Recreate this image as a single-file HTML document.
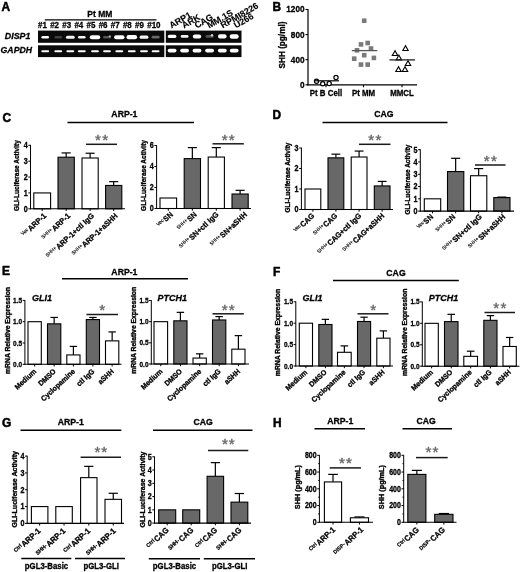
<!DOCTYPE html>
<html><head><meta charset="utf-8"><title>Figure</title>
<style>html,body{margin:0;padding:0;background:#fff}svg{display:block;filter:blur(0.4px)}</style></head>
<body>
<svg width="520" height="572" viewBox="0 0 520 572" font-family="Liberation Sans, Arial, sans-serif">
<defs><filter id="bl" x="-20%" y="-50%" width="140%" height="200%"><feGaussianBlur stdDeviation="0.75"/></filter><filter id="bl2" x="-20%" y="-50%" width="140%" height="200%"><feGaussianBlur stdDeviation="0.5"/></filter></defs>
<rect width="520" height="572" fill="#fff"/>
<text transform="translate(1.5 10.7)" font-size="11.9" font-weight="bold" text-anchor="start" fill="#000" stroke="#000" stroke-width="0.5">A</text>
<text transform="translate(272.5 11)" font-size="11.9" font-weight="bold" text-anchor="start" fill="#000" stroke="#000" stroke-width="0.5">B</text>
<text transform="translate(2.5 121.5)" font-size="11.9" font-weight="bold" text-anchor="start" fill="#000" stroke="#000" stroke-width="0.5">C</text>
<text transform="translate(272.5 118.8)" font-size="11.9" font-weight="bold" text-anchor="start" fill="#000" stroke="#000" stroke-width="0.5">D</text>
<text transform="translate(2 274.6)" font-size="11.9" font-weight="bold" text-anchor="start" fill="#000" stroke="#000" stroke-width="0.5">E</text>
<text transform="translate(273 275.5)" font-size="11.9" font-weight="bold" text-anchor="start" fill="#000" stroke="#000" stroke-width="0.5">F</text>
<text transform="translate(2 427)" font-size="11.9" font-weight="bold" text-anchor="start" fill="#000" stroke="#000" stroke-width="0.5">G</text>
<text transform="translate(273 427)" font-size="11.9" font-weight="bold" text-anchor="start" fill="#000" stroke="#000" stroke-width="0.5">H</text>
<text transform="translate(99.8 17.3) scale(0.9 1)" font-size="9.44" font-weight="bold" text-anchor="middle" fill="#000" stroke="#000" stroke-width="0.3">Pt MM</text>
<line x1="44.8" y1="19.8" x2="156.5" y2="19.8" stroke="#000" stroke-width="1.3"/>
<text transform="translate(42.4 28.2) scale(0.9 1)" font-size="8.89" font-weight="bold" text-anchor="middle" fill="#000" stroke="#000" stroke-width="0.3">#1</text>
<text transform="translate(54.6 28.2) scale(0.9 1)" font-size="8.89" font-weight="bold" text-anchor="middle" fill="#000" stroke="#000" stroke-width="0.3">#2</text>
<text transform="translate(66.75 28.2) scale(0.9 1)" font-size="8.89" font-weight="bold" text-anchor="middle" fill="#000" stroke="#000" stroke-width="0.3">#3</text>
<text transform="translate(78.85 28.2) scale(0.9 1)" font-size="8.89" font-weight="bold" text-anchor="middle" fill="#000" stroke="#000" stroke-width="0.3">#4</text>
<text transform="translate(90.95 28.2) scale(0.9 1)" font-size="8.89" font-weight="bold" text-anchor="middle" fill="#000" stroke="#000" stroke-width="0.3">#5</text>
<text transform="translate(103.1 28.2) scale(0.9 1)" font-size="8.89" font-weight="bold" text-anchor="middle" fill="#000" stroke="#000" stroke-width="0.3">#6</text>
<text transform="translate(115.25 28.2) scale(0.9 1)" font-size="8.89" font-weight="bold" text-anchor="middle" fill="#000" stroke="#000" stroke-width="0.3">#7</text>
<text transform="translate(127.35 28.2) scale(0.9 1)" font-size="8.89" font-weight="bold" text-anchor="middle" fill="#000" stroke="#000" stroke-width="0.3">#8</text>
<text transform="translate(139.45 28.2) scale(0.9 1)" font-size="8.89" font-weight="bold" text-anchor="middle" fill="#000" stroke="#000" stroke-width="0.3">#9</text>
<text transform="translate(153.85 28.2) scale(0.9 1)" font-size="8.89" font-weight="bold" text-anchor="middle" fill="#000" stroke="#000" stroke-width="0.3">#10</text>
<text transform="translate(4.8 38.8) scale(0.9 1)" font-size="9.89" font-weight="bold" text-anchor="start" fill="#000" stroke="#000" stroke-width="0.3" font-style="italic">DISP1</text>
<text transform="translate(0.6 52.8) scale(0.9 1)" font-size="9.67" font-weight="bold" text-anchor="start" fill="#000" stroke="#000" stroke-width="0.3" font-style="italic">GAPDH</text>
<rect x="38" y="30.6" width="126.3" height="12.2" fill="#0a0a0a"/>
<rect x="38" y="45.3" width="126.3" height="11.8" fill="#0a0a0a"/>
<rect x="165.8" y="30.6" width="75.7" height="12.2" fill="#0a0a0a"/>
<rect x="165.8" y="45.3" width="75.7" height="11.8" fill="#0a0a0a"/>
<g filter="url(#bl)">
<rect x="41.4" y="35.9" width="7.6" height="2.6" rx="1.3" fill="#fff" opacity="1.0"/>
<rect x="54.55" y="36.0" width="7.5" height="2.4" rx="1.2" fill="#fff" opacity="0.22"/>
<rect x="65.9" y="35.65" width="8.8" height="3.1" rx="1.55" fill="#fff" opacity="0.95"/>
<rect x="78.0" y="35.9" width="7.6" height="2.6" rx="1.3" fill="#fff" opacity="0.95"/>
<rect x="89.8" y="35.2" width="10.4" height="4.0" rx="2.0" fill="#fff" opacity="1.0"/>
<rect x="103.0" y="36.0" width="8" height="2.4" rx="1.2" fill="#fff" opacity="0.3"/>
<rect x="114.1" y="35.2" width="10.4" height="4.0" rx="2.0" fill="#fff" opacity="1.0"/>
<rect x="126.5" y="35.1" width="10.6" height="4.2" rx="2.1" fill="#fff" opacity="1.0"/>
<rect x="139.6" y="35.6" width="8.8" height="3.2" rx="1.6" fill="#fff" opacity="0.95"/>
<rect x="151.6" y="35.8" width="8" height="2.8" rx="1.4" fill="#fff" opacity="0.38"/>
<circle cx="109.8" cy="36.3" r="1.1" fill="#fff" opacity="0.6"/>
</g>
<rect x="41.3" y="50.2" width="7.8" height="2.1" rx="1" fill="#fff" filter="url(#bl2)"/>
<rect x="54.4" y="50.2" width="7.8" height="2.1" rx="1" fill="#fff" filter="url(#bl2)"/>
<rect x="66.4" y="50.2" width="7.8" height="2.1" rx="1" fill="#fff" filter="url(#bl2)"/>
<rect x="77.9" y="50.2" width="7.8" height="2.1" rx="1" fill="#fff" filter="url(#bl2)"/>
<rect x="91.1" y="50.2" width="7.8" height="2.1" rx="1" fill="#fff" filter="url(#bl2)"/>
<rect x="103.1" y="50.2" width="7.8" height="2.1" rx="1" fill="#fff" filter="url(#bl2)"/>
<rect x="115.4" y="50.2" width="7.8" height="2.1" rx="1" fill="#fff" filter="url(#bl2)"/>
<rect x="127.9" y="50.2" width="7.8" height="2.1" rx="1" fill="#fff" filter="url(#bl2)"/>
<rect x="140.1" y="50.2" width="7.8" height="2.1" rx="1" fill="#fff" filter="url(#bl2)"/>
<rect x="151.7" y="50.2" width="7.8" height="2.1" rx="1" fill="#fff" filter="url(#bl2)"/>
<g filter="url(#bl)">
<rect x="167.8" y="34.75" width="8.6" height="3.3" rx="1.65" fill="#fff" opacity="1.0"/>
<rect x="180.7" y="34.95" width="7.8" height="2.9" rx="1.45" fill="#fff" opacity="0.95"/>
<rect x="192.8" y="34.4" width="8.4" height="4.0" rx="2.0" fill="#fff" opacity="1.0"/>
<rect x="205.6" y="35.1" width="8" height="2.6" rx="1.3" fill="#fff" opacity="0.3"/>
<rect x="218.0" y="34.3" width="8.6" height="4.2" rx="2.1" fill="#fff" opacity="1.0"/>
<rect x="229.7" y="34.15" width="9" height="4.5" rx="2.25" fill="#fff" opacity="1.0"/>
<circle cx="212" cy="35.2" r="1.2" fill="#fff" opacity="0.75"/>
<rect x="167.7" y="48.7" width="8.8" height="3.8" rx="1.9" fill="#fff"/>
<rect x="180.2" y="48.7" width="8.8" height="3.8" rx="1.9" fill="#fff"/>
<rect x="192.6" y="48.7" width="8.8" height="3.8" rx="1.9" fill="#fff"/>
<rect x="205.2" y="48.7" width="8.8" height="3.8" rx="1.9" fill="#fff"/>
<rect x="217.9" y="48.7" width="8.8" height="3.8" rx="1.9" fill="#fff"/>
<rect x="229.8" y="48.7" width="8.8" height="3.8" rx="1.9" fill="#fff"/>
</g>
<text transform="translate(171.4 28.6) rotate(-30)" font-size="8.9" font-weight="bold" text-anchor="start" fill="#000" stroke="#000" stroke-width="0.15">ARP1</text>
<text transform="translate(184.10000000000002 28.6) rotate(-30)" font-size="8.9" font-weight="bold" text-anchor="start" fill="#000" stroke="#000" stroke-width="0.15">ARK</text>
<text transform="translate(196.70000000000002 28.6) rotate(-30)" font-size="8.9" font-weight="bold" text-anchor="start" fill="#000" stroke="#000" stroke-width="0.15">CAG</text>
<text transform="translate(209.20000000000002 28.6) rotate(-30)" font-size="8.9" font-weight="bold" text-anchor="start" fill="#000" stroke="#000" stroke-width="0.15">MM.1S</text>
<text transform="translate(222.8 28.6) rotate(-30)" font-size="8.9" font-weight="bold" text-anchor="start" fill="#000" stroke="#000" stroke-width="0.15">RPMI8226</text>
<text transform="translate(236.0 28.6) rotate(-30)" font-size="8.9" font-weight="bold" text-anchor="start" fill="#000" stroke="#000" stroke-width="0.15">U266</text>
<line x1="308" y1="9" x2="308" y2="85.4" stroke="#000" stroke-width="1.2"/>
<line x1="307.4" y1="84.8" x2="417" y2="84.8" stroke="#000" stroke-width="1.2"/>
<line x1="305.5" y1="84.8" x2="308" y2="84.8" stroke="#000" stroke-width="1.1"/>
<text transform="translate(304.5 87.7) scale(0.9 1)" font-size="9.11" font-weight="bold" text-anchor="end" fill="#000" stroke="#000" stroke-width="0.3">0</text>
<line x1="305.5" y1="59.699999999999996" x2="308" y2="59.699999999999996" stroke="#000" stroke-width="1.1"/>
<text transform="translate(304.5 62.6) scale(0.9 1)" font-size="9.11" font-weight="bold" text-anchor="end" fill="#000" stroke="#000" stroke-width="0.3">400</text>
<line x1="305.5" y1="34.599999999999994" x2="308" y2="34.599999999999994" stroke="#000" stroke-width="1.1"/>
<text transform="translate(304.5 37.5) scale(0.9 1)" font-size="9.11" font-weight="bold" text-anchor="end" fill="#000" stroke="#000" stroke-width="0.3">800</text>
<line x1="305.5" y1="9.5" x2="308" y2="9.5" stroke="#000" stroke-width="1.1"/>
<text transform="translate(304.5 12.4) scale(0.9 1)" font-size="9.11" font-weight="bold" text-anchor="end" fill="#000" stroke="#000" stroke-width="0.3">1200</text>
<text transform="translate(285 45) rotate(-90) scale(0.95 1)" font-size="8.63" font-weight="bold" text-anchor="middle" fill="#000" stroke="#000" stroke-width="0.3">SHH (pg/ml)</text>
<text transform="translate(326 96) scale(0.9 1)" font-size="8.78" font-weight="bold" text-anchor="middle" fill="#000" stroke="#000" stroke-width="0.3">Pt B Cell</text>
<text transform="translate(363.5 96) scale(0.9 1)" font-size="8.78" font-weight="bold" text-anchor="middle" fill="#000" stroke="#000" stroke-width="0.3">Pt MM</text>
<text transform="translate(402 96) scale(0.9 1)" font-size="8.78" font-weight="bold" text-anchor="middle" fill="#000" stroke="#000" stroke-width="0.3">MMCL</text>
<line x1="326" y1="84.8" x2="326" y2="87.3" stroke="#000" stroke-width="1.1"/>
<line x1="363.5" y1="84.8" x2="363.5" y2="87.3" stroke="#000" stroke-width="1.1"/>
<line x1="402" y1="84.8" x2="402" y2="87.3" stroke="#000" stroke-width="1.1"/>
<circle cx="316.5" cy="81.3" r="2.1" fill="#fff" stroke="#000" stroke-width="1.2"/>
<circle cx="322.7" cy="83.7" r="2.1" fill="#fff" stroke="#000" stroke-width="1.2"/>
<circle cx="329.2" cy="83.5" r="2.1" fill="#fff" stroke="#000" stroke-width="1.2"/>
<circle cx="336" cy="77.5" r="2.1" fill="#fff" stroke="#000" stroke-width="1.2"/>
<line x1="315" y1="80.8" x2="339" y2="80.8" stroke="#000" stroke-width="1.2"/>
<rect x="361.9" y="18.4" width="4.6" height="4.6" fill="#7a7a7a"/>
<rect x="358.7" y="42.1" width="4.6" height="4.6" fill="#7a7a7a"/>
<rect x="365.4" y="40.7" width="4.6" height="4.6" fill="#7a7a7a"/>
<rect x="354.7" y="48.0" width="4.6" height="4.6" fill="#7a7a7a"/>
<rect x="368.7" y="46.2" width="4.6" height="4.6" fill="#7a7a7a"/>
<rect x="361.9" y="52.9" width="4.6" height="4.6" fill="#7a7a7a"/>
<rect x="351.9" y="56.4" width="4.6" height="4.6" fill="#7a7a7a"/>
<rect x="371.6" y="55.6" width="4.6" height="4.6" fill="#7a7a7a"/>
<rect x="358.7" y="62.3" width="4.6" height="4.6" fill="#7a7a7a"/>
<rect x="365.4" y="62.3" width="4.6" height="4.6" fill="#7a7a7a"/>
<line x1="351.8" y1="50.6" x2="377.3" y2="50.6" stroke="#555" stroke-width="1.3"/>
<polygon points="395,50.7 392.3,55.5 397.7,55.5" fill="#fff" stroke="#000" stroke-width="1.1"/>
<polygon points="405.5,45.7 402.8,50.5 408.2,50.5" fill="#fff" stroke="#000" stroke-width="1.1"/>
<polygon points="398.9,55.1 396.2,59.9 401.59999999999997,59.9" fill="#fff" stroke="#000" stroke-width="1.1"/>
<polygon points="408,60.7 405.3,65.5 410.7,65.5" fill="#fff" stroke="#000" stroke-width="1.1"/>
<polygon points="398.5,66.7 395.8,71.5 401.2,71.5" fill="#fff" stroke="#000" stroke-width="1.1"/>
<polygon points="405,66.7 402.3,71.5 407.7,71.5" fill="#fff" stroke="#000" stroke-width="1.1"/>
<line x1="389.5" y1="59.9" x2="415" y2="59.9" stroke="#222" stroke-width="1.3"/>
<text transform="translate(124.4 117.3) scale(0.9 1)" font-size="9.67" font-weight="bold" text-anchor="middle" fill="#000" stroke="#000" stroke-width="0.3">ARP-1</text>
<line x1="67.5" y1="122.5" x2="194" y2="122.5" stroke="#000" stroke-width="1.5"/>
<text transform="translate(383.9 116.8) scale(0.9 1)" font-size="9.67" font-weight="bold" text-anchor="middle" fill="#000" stroke="#000" stroke-width="0.3">CAG</text>
<line x1="322.5" y1="122.5" x2="447.5" y2="122.5" stroke="#000" stroke-width="1.5"/>
<text transform="translate(124.4 275.3) scale(0.9 1)" font-size="9.67" font-weight="bold" text-anchor="middle" fill="#000" stroke="#000" stroke-width="0.3">ARP-1</text>
<line x1="62" y1="278.8" x2="188" y2="278.8" stroke="#000" stroke-width="1.5"/>
<text transform="translate(396.0 275.6) scale(0.9 1)" font-size="9.67" font-weight="bold" text-anchor="middle" fill="#000" stroke="#000" stroke-width="0.3">CAG</text>
<line x1="333" y1="280.5" x2="458.8" y2="280.5" stroke="#000" stroke-width="1.5"/>
<text transform="translate(70.7 425.1) scale(0.9 1)" font-size="9.67" font-weight="bold" text-anchor="middle" fill="#000" stroke="#000" stroke-width="0.3">ARP-1</text>
<line x1="20.5" y1="430.2" x2="121.3" y2="430.2" stroke="#000" stroke-width="1.5"/>
<text transform="translate(203.20000000000002 425.2) scale(0.9 1)" font-size="9.67" font-weight="bold" text-anchor="middle" fill="#000" stroke="#000" stroke-width="0.3">CAG</text>
<line x1="153" y1="430.2" x2="252.5" y2="430.2" stroke="#000" stroke-width="1.5"/>
<text transform="translate(340.2 424.3) scale(0.9 1)" font-size="9.67" font-weight="bold" text-anchor="middle" fill="#000" stroke="#000" stroke-width="0.3">ARP-1</text>
<line x1="314.5" y1="428.8" x2="365" y2="428.8" stroke="#000" stroke-width="1.5"/>
<text transform="translate(426.2 424.3) scale(0.9 1)" font-size="9.67" font-weight="bold" text-anchor="middle" fill="#000" stroke="#000" stroke-width="0.3">CAG</text>
<line x1="402.5" y1="428.8" x2="452" y2="428.8" stroke="#000" stroke-width="1.5"/>
<rect x="33.8" y="192.93" width="16.8" height="15.88" fill="#fff" stroke="#000" stroke-width="1.1"/>
<line x1="42.2" y1="208.8" x2="42.2" y2="211.0" stroke="#000" stroke-width="1.0"/>
<line x1="66.15" y1="157.21" x2="66.15" y2="152.92" stroke="#000" stroke-width="1.2"/>
<line x1="61.59" y1="152.92" x2="70.71" y2="152.92" stroke="#000" stroke-width="1.2"/>
<rect x="58" y="157.21" width="16.3" height="51.59" fill="#686868" stroke="#000" stroke-width="1.1"/>
<line x1="66.15" y1="208.8" x2="66.15" y2="211.0" stroke="#000" stroke-width="1.0"/>
<line x1="90.1" y1="158.0" x2="90.1" y2="153.24" stroke="#000" stroke-width="1.2"/>
<line x1="85.56" y1="153.24" x2="94.64" y2="153.24" stroke="#000" stroke-width="1.2"/>
<rect x="82" y="158.00" width="16.2" height="50.80" fill="#fff" stroke="#000" stroke-width="1.1"/>
<line x1="90.1" y1="208.8" x2="90.1" y2="211.0" stroke="#000" stroke-width="1.0"/>
<line x1="113.69999999999999" y1="185.46" x2="113.69999999999999" y2="181.65" stroke="#000" stroke-width="1.2"/>
<line x1="109.16" y1="181.65" x2="118.24" y2="181.65" stroke="#000" stroke-width="1.2"/>
<rect x="105.6" y="185.46" width="16.2" height="23.34" fill="#686868" stroke="#000" stroke-width="1.1"/>
<line x1="113.69999999999999" y1="208.8" x2="113.69999999999999" y2="211.0" stroke="#000" stroke-width="1.0"/>
<line x1="30.5" y1="144.9" x2="30.5" y2="209.3" stroke="#000" stroke-width="1.0"/>
<line x1="30.0" y1="208.8" x2="125" y2="208.8" stroke="#000" stroke-width="1.1"/>
<line x1="28.3" y1="208.8" x2="30.5" y2="208.8" stroke="#000" stroke-width="1.0"/>
<text transform="translate(27.7 211.61) scale(0.86 1)" font-size="8.37" font-weight="bold" text-anchor="end" fill="#000" stroke="#000" stroke-width="0.3">0</text>
<line x1="28.3" y1="192.93" x2="30.5" y2="192.93" stroke="#000" stroke-width="1.0"/>
<text transform="translate(27.7 195.74) scale(0.86 1)" font-size="8.37" font-weight="bold" text-anchor="end" fill="#000" stroke="#000" stroke-width="0.3">1</text>
<line x1="28.3" y1="177.05" x2="30.5" y2="177.05" stroke="#000" stroke-width="1.0"/>
<text transform="translate(27.7 179.86) scale(0.86 1)" font-size="8.37" font-weight="bold" text-anchor="end" fill="#000" stroke="#000" stroke-width="0.3">2</text>
<line x1="28.3" y1="161.18" x2="30.5" y2="161.18" stroke="#000" stroke-width="1.0"/>
<text transform="translate(27.7 163.99) scale(0.86 1)" font-size="8.37" font-weight="bold" text-anchor="end" fill="#000" stroke="#000" stroke-width="0.3">3</text>
<line x1="28.3" y1="145.3" x2="30.5" y2="145.3" stroke="#000" stroke-width="1.0"/>
<text transform="translate(27.7 148.11) scale(0.86 1)" font-size="8.37" font-weight="bold" text-anchor="end" fill="#000" stroke="#000" stroke-width="0.3">4</text>
<text transform="translate(18.7 175.6) rotate(-90) scale(0.95 1)" font-size="6.89" font-weight="bold" text-anchor="middle" fill="#000" stroke="#000" stroke-width="0.35">GLI-Luciferase Activity</text>
<text x="102.19999999999999" y="145.14" font-size="15.2" font-weight="normal" text-anchor="middle" fill="#666" stroke="#666" stroke-width="0.4" letter-spacing="1.2">**</text>
<line x1="86" y1="144.3" x2="117" y2="144.3" stroke="#1a1a1a" stroke-width="1.5"/>
<text transform="translate(46.7 216.5) rotate(-43) scale(0.95 1)" font-size="7.68" font-weight="bold" text-anchor="end" fill="#000" stroke="#000" stroke-width="0.3"><tspan font-size="4.95" font-weight="normal" stroke-width="0.15" dy="-2.3">Vec</tspan><tspan dy="2.3" dx="0.8">ARP-1</tspan></text>
<text transform="translate(70.65 216.5) rotate(-43) scale(0.95 1)" font-size="7.68" font-weight="bold" text-anchor="end" fill="#000" stroke="#000" stroke-width="0.3"><tspan font-size="4.95" font-weight="normal" stroke-width="0.15" dy="-2.3">SHH+</tspan><tspan dy="2.3" dx="0.8">ARP-1</tspan></text>
<text transform="translate(94.6 216.5) rotate(-43) scale(0.95 1)" font-size="7.68" font-weight="bold" text-anchor="end" fill="#000" stroke="#000" stroke-width="0.3"><tspan font-size="4.95" font-weight="normal" stroke-width="0.15" dy="-2.3">SHH+</tspan><tspan dy="2.3" dx="0.8">ARP-1+ctl IgG</tspan></text>
<text transform="translate(118.19999999999999 216.5) rotate(-43) scale(0.95 1)" font-size="7.68" font-weight="bold" text-anchor="end" fill="#000" stroke="#000" stroke-width="0.3"><tspan font-size="4.95" font-weight="normal" stroke-width="0.15" dy="-2.3">SHH+</tspan><tspan dy="2.3" dx="0.8">ARP-1+aSHH</tspan></text>
<rect x="160" y="198.00" width="16.6" height="10.50" fill="#fff" stroke="#000" stroke-width="1.1"/>
<line x1="168.3" y1="208.5" x2="168.3" y2="210.7" stroke="#000" stroke-width="1.0"/>
<line x1="192.35" y1="158.62" x2="192.35" y2="147.6" stroke="#000" stroke-width="1.2"/>
<line x1="187.79" y1="147.6" x2="196.91" y2="147.6" stroke="#000" stroke-width="1.2"/>
<rect x="184.2" y="158.62" width="16.3" height="49.88" fill="#686868" stroke="#000" stroke-width="1.1"/>
<line x1="192.35" y1="208.5" x2="192.35" y2="210.7" stroke="#000" stroke-width="1.0"/>
<line x1="216.3" y1="157.05" x2="216.3" y2="147.6" stroke="#000" stroke-width="1.2"/>
<line x1="211.76" y1="147.6" x2="220.84" y2="147.6" stroke="#000" stroke-width="1.2"/>
<rect x="208.2" y="157.05" width="16.2" height="51.45" fill="#fff" stroke="#000" stroke-width="1.1"/>
<line x1="216.3" y1="208.5" x2="216.3" y2="210.7" stroke="#000" stroke-width="1.0"/>
<line x1="240.1" y1="194.01" x2="240.1" y2="190.34" stroke="#000" stroke-width="1.2"/>
<line x1="235.56" y1="190.34" x2="244.64" y2="190.34" stroke="#000" stroke-width="1.2"/>
<rect x="232" y="194.01" width="16.2" height="14.49" fill="#686868" stroke="#000" stroke-width="1.1"/>
<line x1="240.1" y1="208.5" x2="240.1" y2="210.7" stroke="#000" stroke-width="1.0"/>
<line x1="156.6" y1="145.1" x2="156.6" y2="209.0" stroke="#000" stroke-width="1.0"/>
<line x1="156.1" y1="208.5" x2="251" y2="208.5" stroke="#000" stroke-width="1.1"/>
<line x1="154.4" y1="208.5" x2="156.6" y2="208.5" stroke="#000" stroke-width="1.0"/>
<text transform="translate(153.8 211.31) scale(0.86 1)" font-size="8.37" font-weight="bold" text-anchor="end" fill="#000" stroke="#000" stroke-width="0.3">0</text>
<line x1="154.4" y1="187.5" x2="156.6" y2="187.5" stroke="#000" stroke-width="1.0"/>
<text transform="translate(153.8 190.31) scale(0.86 1)" font-size="8.37" font-weight="bold" text-anchor="end" fill="#000" stroke="#000" stroke-width="0.3">2</text>
<line x1="154.4" y1="166.5" x2="156.6" y2="166.5" stroke="#000" stroke-width="1.0"/>
<text transform="translate(153.8 169.31) scale(0.86 1)" font-size="8.37" font-weight="bold" text-anchor="end" fill="#000" stroke="#000" stroke-width="0.3">4</text>
<line x1="154.4" y1="145.5" x2="156.6" y2="145.5" stroke="#000" stroke-width="1.0"/>
<text transform="translate(153.8 148.31) scale(0.86 1)" font-size="8.37" font-weight="bold" text-anchor="end" fill="#000" stroke="#000" stroke-width="0.3">6</text>
<text transform="translate(146.2 175.5) rotate(-90) scale(0.95 1)" font-size="6.89" font-weight="bold" text-anchor="middle" fill="#000" stroke="#000" stroke-width="0.35">GLI-Luciferase Activity</text>
<text x="228.85" y="144.64" font-size="15.2" font-weight="normal" text-anchor="middle" fill="#666" stroke="#666" stroke-width="0.4" letter-spacing="1.2">**</text>
<line x1="212.5" y1="143.8" x2="243.8" y2="143.8" stroke="#1a1a1a" stroke-width="1.5"/>
<text transform="translate(173.5 215.2) rotate(-43) scale(0.95 1)" font-size="7.68" font-weight="bold" text-anchor="end" fill="#000" stroke="#000" stroke-width="0.3"><tspan font-size="4.95" font-weight="normal" stroke-width="0.15" dy="-2.3">Vec</tspan><tspan dy="2.3" dx="0.8">SN</tspan></text>
<text transform="translate(197.35 215.2) rotate(-43) scale(0.95 1)" font-size="7.68" font-weight="bold" text-anchor="end" fill="#000" stroke="#000" stroke-width="0.3"><tspan font-size="4.95" font-weight="normal" stroke-width="0.15" dy="-2.3">SHH+</tspan><tspan dy="2.3" dx="0.8">SN</tspan></text>
<text transform="translate(219.10000000000002 215.2) rotate(-43) scale(0.95 1)" font-size="7.68" font-weight="bold" text-anchor="end" fill="#000" stroke="#000" stroke-width="0.3"><tspan font-size="4.95" font-weight="normal" stroke-width="0.15" dy="-2.3">SHH+</tspan><tspan dy="2.3" dx="0.8">SN+ctl IgG</tspan></text>
<text transform="translate(247.6 215.2) rotate(-43) scale(0.95 1)" font-size="7.68" font-weight="bold" text-anchor="end" fill="#000" stroke="#000" stroke-width="0.3"><tspan font-size="4.95" font-weight="normal" stroke-width="0.15" dy="-2.3">SHH+</tspan><tspan dy="2.3" dx="0.8">SN+aSHH</tspan></text>
<rect x="305" y="189.00" width="15.8" height="20.50" fill="#fff" stroke="#000" stroke-width="1.1"/>
<line x1="312.9" y1="209.5" x2="312.9" y2="211.7" stroke="#000" stroke-width="1.0"/>
<line x1="335.9" y1="157.84" x2="335.9" y2="154.15" stroke="#000" stroke-width="1.2"/>
<line x1="331.48" y1="154.15" x2="340.32" y2="154.15" stroke="#000" stroke-width="1.2"/>
<rect x="328" y="157.84" width="15.8" height="51.66" fill="#686868" stroke="#000" stroke-width="1.1"/>
<line x1="335.9" y1="209.5" x2="335.9" y2="211.7" stroke="#000" stroke-width="1.0"/>
<line x1="359.1" y1="157.02" x2="359.1" y2="151.07" stroke="#000" stroke-width="1.2"/>
<line x1="354.68" y1="151.07" x2="363.52" y2="151.07" stroke="#000" stroke-width="1.2"/>
<rect x="351.2" y="157.02" width="15.8" height="52.48" fill="#fff" stroke="#000" stroke-width="1.1"/>
<line x1="359.1" y1="209.5" x2="359.1" y2="211.7" stroke="#000" stroke-width="1.0"/>
<line x1="382.15" y1="185.93" x2="382.15" y2="181.41" stroke="#000" stroke-width="1.2"/>
<line x1="377.75" y1="181.41" x2="386.55" y2="181.41" stroke="#000" stroke-width="1.2"/>
<rect x="374.3" y="185.93" width="15.7" height="23.57" fill="#686868" stroke="#000" stroke-width="1.1"/>
<line x1="382.15" y1="209.5" x2="382.15" y2="211.7" stroke="#000" stroke-width="1.0"/>
<line x1="301.4" y1="147.6" x2="301.4" y2="210.0" stroke="#000" stroke-width="1.0"/>
<line x1="300.9" y1="209.5" x2="393" y2="209.5" stroke="#000" stroke-width="1.1"/>
<line x1="299.2" y1="209.5" x2="301.4" y2="209.5" stroke="#000" stroke-width="1.0"/>
<text transform="translate(298.59999999999997 212.31) scale(0.86 1)" font-size="8.37" font-weight="bold" text-anchor="end" fill="#000" stroke="#000" stroke-width="0.3">0</text>
<line x1="299.2" y1="189.0" x2="301.4" y2="189.0" stroke="#000" stroke-width="1.0"/>
<text transform="translate(298.59999999999997 191.81) scale(0.86 1)" font-size="8.37" font-weight="bold" text-anchor="end" fill="#000" stroke="#000" stroke-width="0.3">1</text>
<line x1="299.2" y1="168.5" x2="301.4" y2="168.5" stroke="#000" stroke-width="1.0"/>
<text transform="translate(298.59999999999997 171.31) scale(0.86 1)" font-size="8.37" font-weight="bold" text-anchor="end" fill="#000" stroke="#000" stroke-width="0.3">2</text>
<line x1="299.2" y1="148.0" x2="301.4" y2="148.0" stroke="#000" stroke-width="1.0"/>
<text transform="translate(298.59999999999997 150.81) scale(0.86 1)" font-size="8.37" font-weight="bold" text-anchor="end" fill="#000" stroke="#000" stroke-width="0.3">3</text>
<text transform="translate(290 177.5) rotate(-90) scale(0.95 1)" font-size="6.79" font-weight="bold" text-anchor="middle" fill="#000" stroke="#000" stroke-width="0.35">GLI-Luciferase Activity</text>
<text x="375.45000000000005" y="145.14" font-size="15.2" font-weight="normal" text-anchor="middle" fill="#666" stroke="#666" stroke-width="0.4" letter-spacing="1.2">**</text>
<line x1="359" y1="144.3" x2="390.5" y2="144.3" stroke="#1a1a1a" stroke-width="1.5"/>
<text transform="translate(314.9 216.5) rotate(-43) scale(0.95 1)" font-size="7.68" font-weight="bold" text-anchor="end" fill="#000" stroke="#000" stroke-width="0.3"><tspan font-size="4.95" font-weight="normal" stroke-width="0.15" dy="-2.3">Vec</tspan><tspan dy="2.3" dx="0.8">CAG</tspan></text>
<text transform="translate(337.9 216.5) rotate(-43) scale(0.95 1)" font-size="7.68" font-weight="bold" text-anchor="end" fill="#000" stroke="#000" stroke-width="0.3"><tspan font-size="4.95" font-weight="normal" stroke-width="0.15" dy="-2.3">SHH+</tspan><tspan dy="2.3" dx="0.8">CAG</tspan></text>
<text transform="translate(361.85 216.5) rotate(-43) scale(0.95 1)" font-size="7.68" font-weight="bold" text-anchor="end" fill="#000" stroke="#000" stroke-width="0.3"><tspan font-size="4.95" font-weight="normal" stroke-width="0.15" dy="-2.3">SHH+</tspan><tspan dy="2.3" dx="0.8">CAG+ctl IgG</tspan></text>
<text transform="translate(384.9 216.5) rotate(-43) scale(0.95 1)" font-size="7.68" font-weight="bold" text-anchor="end" fill="#000" stroke="#000" stroke-width="0.3"><tspan font-size="4.95" font-weight="normal" stroke-width="0.15" dy="-2.3">SHH+</tspan><tspan dy="2.3" dx="0.8">CAG+aSHH</tspan></text>
<rect x="424.3" y="198.82" width="16.4" height="12.28" fill="#fff" stroke="#000" stroke-width="1.1"/>
<line x1="432.5" y1="211.1" x2="432.5" y2="213.29999999999998" stroke="#000" stroke-width="1.0"/>
<line x1="455.65" y1="171.56" x2="455.65" y2="158.3" stroke="#000" stroke-width="1.2"/>
<line x1="451.09" y1="158.3" x2="460.21" y2="158.3" stroke="#000" stroke-width="1.2"/>
<rect x="447.5" y="171.56" width="16.3" height="39.54" fill="#686868" stroke="#000" stroke-width="1.1"/>
<line x1="455.65" y1="211.1" x2="455.65" y2="213.29999999999998" stroke="#000" stroke-width="1.0"/>
<line x1="478.65" y1="175.73" x2="478.65" y2="168.61" stroke="#000" stroke-width="1.2"/>
<line x1="474.09" y1="168.61" x2="483.21" y2="168.61" stroke="#000" stroke-width="1.2"/>
<rect x="470.5" y="175.73" width="16.3" height="35.37" fill="#fff" stroke="#000" stroke-width="1.1"/>
<line x1="478.65" y1="211.1" x2="478.65" y2="213.29999999999998" stroke="#000" stroke-width="1.0"/>
<line x1="501.9" y1="197.59" x2="501.9" y2="197.1" stroke="#000" stroke-width="1.2"/>
<line x1="497.36" y1="197.1" x2="506.44" y2="197.1" stroke="#000" stroke-width="1.2"/>
<rect x="493.8" y="197.59" width="16.2" height="13.51" fill="#686868" stroke="#000" stroke-width="1.1"/>
<line x1="501.9" y1="211.1" x2="501.9" y2="213.29999999999998" stroke="#000" stroke-width="1.0"/>
<line x1="420.3" y1="149.29999999999998" x2="420.3" y2="211.6" stroke="#000" stroke-width="1.0"/>
<line x1="419.8" y1="211.1" x2="514" y2="211.1" stroke="#000" stroke-width="1.1"/>
<line x1="418.1" y1="211.1" x2="420.3" y2="211.1" stroke="#000" stroke-width="1.0"/>
<text transform="translate(417.5 213.91) scale(0.86 1)" font-size="8.37" font-weight="bold" text-anchor="end" fill="#000" stroke="#000" stroke-width="0.3">0</text>
<line x1="418.1" y1="198.82" x2="420.3" y2="198.82" stroke="#000" stroke-width="1.0"/>
<text transform="translate(417.5 201.63) scale(0.86 1)" font-size="8.37" font-weight="bold" text-anchor="end" fill="#000" stroke="#000" stroke-width="0.3">1</text>
<line x1="418.1" y1="186.54" x2="420.3" y2="186.54" stroke="#000" stroke-width="1.0"/>
<text transform="translate(417.5 189.35) scale(0.86 1)" font-size="8.37" font-weight="bold" text-anchor="end" fill="#000" stroke="#000" stroke-width="0.3">2</text>
<line x1="418.1" y1="174.26" x2="420.3" y2="174.26" stroke="#000" stroke-width="1.0"/>
<text transform="translate(417.5 177.07) scale(0.86 1)" font-size="8.37" font-weight="bold" text-anchor="end" fill="#000" stroke="#000" stroke-width="0.3">3</text>
<line x1="418.1" y1="161.98" x2="420.3" y2="161.98" stroke="#000" stroke-width="1.0"/>
<text transform="translate(417.5 164.79) scale(0.86 1)" font-size="8.37" font-weight="bold" text-anchor="end" fill="#000" stroke="#000" stroke-width="0.3">4</text>
<line x1="418.1" y1="149.7" x2="420.3" y2="149.7" stroke="#000" stroke-width="1.0"/>
<text transform="translate(417.5 152.51) scale(0.86 1)" font-size="8.37" font-weight="bold" text-anchor="end" fill="#000" stroke="#000" stroke-width="0.3">5</text>
<text transform="translate(410 179.5) rotate(-90) scale(0.95 1)" font-size="6.79" font-weight="bold" text-anchor="middle" fill="#000" stroke="#000" stroke-width="0.35">GLI-Luciferase Activity</text>
<text x="490.95000000000005" y="165.84" font-size="15.2" font-weight="normal" text-anchor="middle" fill="#666" stroke="#666" stroke-width="0.4" letter-spacing="1.2">**</text>
<line x1="475" y1="165" x2="505.5" y2="165" stroke="#1a1a1a" stroke-width="1.5"/>
<text transform="translate(433.75 217.5) rotate(-43) scale(0.95 1)" font-size="7.68" font-weight="bold" text-anchor="end" fill="#000" stroke="#000" stroke-width="0.3"><tspan font-size="4.95" font-weight="normal" stroke-width="0.15" dy="-2.3">Vec</tspan><tspan dy="2.3" dx="0.8">SN</tspan></text>
<text transform="translate(455.95 217.5) rotate(-43) scale(0.95 1)" font-size="7.68" font-weight="bold" text-anchor="end" fill="#000" stroke="#000" stroke-width="0.3"><tspan font-size="4.95" font-weight="normal" stroke-width="0.15" dy="-2.3">SHH+</tspan><tspan dy="2.3" dx="0.8">SN</tspan></text>
<text transform="translate(482.4 217.5) rotate(-43) scale(0.95 1)" font-size="7.68" font-weight="bold" text-anchor="end" fill="#000" stroke="#000" stroke-width="0.3"><tspan font-size="4.95" font-weight="normal" stroke-width="0.15" dy="-2.3">SHH+</tspan><tspan dy="2.3" dx="0.8">SN+ctl IgG</tspan></text>
<text transform="translate(505.9 217.5) rotate(-43) scale(0.95 1)" font-size="7.68" font-weight="bold" text-anchor="end" fill="#000" stroke="#000" stroke-width="0.3"><tspan font-size="4.95" font-weight="normal" stroke-width="0.15" dy="-2.3">SHH+</tspan><tspan dy="2.3" dx="0.8">SN+aSHH</tspan></text>
<rect x="28" y="321.70" width="13.3" height="42.60" fill="#fff" stroke="#000" stroke-width="1.1"/>
<line x1="34.65" y1="364.3" x2="34.65" y2="366.5" stroke="#000" stroke-width="1.0"/>
<line x1="54.15" y1="323.83" x2="54.15" y2="317.44" stroke="#000" stroke-width="1.2"/>
<line x1="50.43" y1="317.44" x2="57.87" y2="317.44" stroke="#000" stroke-width="1.2"/>
<rect x="47.5" y="323.83" width="13.3" height="40.47" fill="#686868" stroke="#000" stroke-width="1.1"/>
<line x1="54.15" y1="364.3" x2="54.15" y2="366.5" stroke="#000" stroke-width="1.0"/>
<line x1="73.4" y1="354.93" x2="73.4" y2="346.41" stroke="#000" stroke-width="1.2"/>
<line x1="69.7" y1="346.41" x2="77.1" y2="346.41" stroke="#000" stroke-width="1.2"/>
<rect x="66.8" y="354.93" width="13.2" height="9.37" fill="#fff" stroke="#000" stroke-width="1.1"/>
<line x1="73.4" y1="364.3" x2="73.4" y2="366.5" stroke="#000" stroke-width="1.0"/>
<line x1="92.9" y1="319.57" x2="92.9" y2="317.44" stroke="#000" stroke-width="1.2"/>
<line x1="89.2" y1="317.44" x2="96.6" y2="317.44" stroke="#000" stroke-width="1.2"/>
<rect x="86.3" y="319.57" width="13.2" height="44.73" fill="#686868" stroke="#000" stroke-width="1.1"/>
<line x1="92.9" y1="364.3" x2="92.9" y2="366.5" stroke="#000" stroke-width="1.0"/>
<line x1="112.15" y1="340.87" x2="112.15" y2="331.92" stroke="#000" stroke-width="1.2"/>
<line x1="108.43" y1="331.92" x2="115.87" y2="331.92" stroke="#000" stroke-width="1.2"/>
<rect x="105.5" y="340.87" width="13.3" height="23.43" fill="#fff" stroke="#000" stroke-width="1.1"/>
<line x1="112.15" y1="364.3" x2="112.15" y2="366.5" stroke="#000" stroke-width="1.0"/>
<line x1="24.9" y1="300.0" x2="24.9" y2="364.8" stroke="#000" stroke-width="1.0"/>
<line x1="24.4" y1="364.3" x2="121.5" y2="364.3" stroke="#000" stroke-width="1.1"/>
<line x1="22.7" y1="364.3" x2="24.9" y2="364.3" stroke="#000" stroke-width="1.0"/>
<text transform="translate(22.099999999999998 366.84) scale(0.86 1)" font-size="7.56" font-weight="bold" text-anchor="end" fill="#000" stroke="#000" stroke-width="0.3">0.0</text>
<line x1="22.7" y1="343.0" x2="24.9" y2="343.0" stroke="#000" stroke-width="1.0"/>
<text transform="translate(22.099999999999998 345.54) scale(0.86 1)" font-size="7.56" font-weight="bold" text-anchor="end" fill="#000" stroke="#000" stroke-width="0.3">0.5</text>
<line x1="22.7" y1="321.7" x2="24.9" y2="321.7" stroke="#000" stroke-width="1.0"/>
<text transform="translate(22.099999999999998 324.24) scale(0.86 1)" font-size="7.56" font-weight="bold" text-anchor="end" fill="#000" stroke="#000" stroke-width="0.3">1.0</text>
<line x1="22.7" y1="300.4" x2="24.9" y2="300.4" stroke="#000" stroke-width="1.0"/>
<text transform="translate(22.099999999999998 302.94) scale(0.86 1)" font-size="7.56" font-weight="bold" text-anchor="end" fill="#000" stroke="#000" stroke-width="0.3">1.5</text>
<text transform="translate(10 330.5) rotate(-90) scale(0.95 1)" font-size="7.16" font-weight="bold" text-anchor="middle" fill="#000" stroke="#000" stroke-width="0.35">mRNA Relative Expression</text>
<text x="102.89999999999999" y="315.34" font-size="15.2" font-weight="normal" text-anchor="middle" fill="#666" stroke="#666" stroke-width="0.4" letter-spacing="1.2">*</text>
<line x1="86.4" y1="314.5" x2="118" y2="314.5" stroke="#1a1a1a" stroke-width="1.5"/>
<text transform="translate(32 301) scale(0.95 1)" font-size="9.47" font-weight="bold" text-anchor="start" fill="#000" stroke="#000" stroke-width="0.3" font-style="italic">GLI1</text>
<text transform="translate(36.85 372) rotate(-43) scale(0.95 1)" font-size="7.38" font-weight="bold" text-anchor="end" fill="#000" stroke="#000" stroke-width="0.3">Medium</text>
<text transform="translate(56.35 372) rotate(-43) scale(0.95 1)" font-size="7.38" font-weight="bold" text-anchor="end" fill="#000" stroke="#000" stroke-width="0.3">DMSO</text>
<text transform="translate(75.60000000000001 372) rotate(-43) scale(0.95 1)" font-size="7.38" font-weight="bold" text-anchor="end" fill="#000" stroke="#000" stroke-width="0.3">Cyclopamine</text>
<text transform="translate(95.10000000000001 372) rotate(-43) scale(0.95 1)" font-size="7.38" font-weight="bold" text-anchor="end" fill="#000" stroke="#000" stroke-width="0.3">ctl IgG</text>
<text transform="translate(114.35000000000001 372) rotate(-43) scale(0.95 1)" font-size="7.38" font-weight="bold" text-anchor="end" fill="#000" stroke="#000" stroke-width="0.3">aSHH</text>
<rect x="154" y="321.67" width="13.6" height="42.33" fill="#fff" stroke="#000" stroke-width="1.1"/>
<line x1="160.8" y1="364" x2="160.8" y2="366.2" stroke="#000" stroke-width="1.0"/>
<line x1="180.4" y1="320.82" x2="180.4" y2="312.35" stroke="#000" stroke-width="1.2"/>
<line x1="176.7" y1="312.35" x2="184.1" y2="312.35" stroke="#000" stroke-width="1.2"/>
<rect x="173.8" y="320.82" width="13.2" height="43.18" fill="#686868" stroke="#000" stroke-width="1.1"/>
<line x1="180.4" y1="364" x2="180.4" y2="366.2" stroke="#000" stroke-width="1.0"/>
<line x1="199.65" y1="358.07" x2="199.65" y2="353.84" stroke="#000" stroke-width="1.2"/>
<line x1="195.93" y1="353.84" x2="203.37" y2="353.84" stroke="#000" stroke-width="1.2"/>
<rect x="193" y="358.07" width="13.3" height="5.93" fill="#fff" stroke="#000" stroke-width="1.1"/>
<line x1="199.65" y1="364" x2="199.65" y2="366.2" stroke="#000" stroke-width="1.0"/>
<line x1="219.15" y1="319.97" x2="219.15" y2="316.59" stroke="#000" stroke-width="1.2"/>
<line x1="215.43" y1="316.59" x2="222.87" y2="316.59" stroke="#000" stroke-width="1.2"/>
<rect x="212.5" y="319.97" width="13.3" height="44.03" fill="#686868" stroke="#000" stroke-width="1.1"/>
<line x1="219.15" y1="364" x2="219.15" y2="366.2" stroke="#000" stroke-width="1.0"/>
<line x1="238.4" y1="349.18" x2="238.4" y2="335.64" stroke="#000" stroke-width="1.2"/>
<line x1="234.7" y1="335.64" x2="242.1" y2="335.64" stroke="#000" stroke-width="1.2"/>
<rect x="231.8" y="349.18" width="13.2" height="14.82" fill="#fff" stroke="#000" stroke-width="1.1"/>
<line x1="238.4" y1="364" x2="238.4" y2="366.2" stroke="#000" stroke-width="1.0"/>
<line x1="151.3" y1="300.1" x2="151.3" y2="364.5" stroke="#000" stroke-width="1.0"/>
<line x1="150.8" y1="364" x2="249" y2="364" stroke="#000" stroke-width="1.1"/>
<line x1="149.10000000000002" y1="364.0" x2="151.3" y2="364.0" stroke="#000" stroke-width="1.0"/>
<text transform="translate(148.50000000000003 366.54) scale(0.86 1)" font-size="7.56" font-weight="bold" text-anchor="end" fill="#000" stroke="#000" stroke-width="0.3">0.0</text>
<line x1="149.10000000000002" y1="342.83" x2="151.3" y2="342.83" stroke="#000" stroke-width="1.0"/>
<text transform="translate(148.50000000000003 345.37) scale(0.86 1)" font-size="7.56" font-weight="bold" text-anchor="end" fill="#000" stroke="#000" stroke-width="0.3">0.5</text>
<line x1="149.10000000000002" y1="321.67" x2="151.3" y2="321.67" stroke="#000" stroke-width="1.0"/>
<text transform="translate(148.50000000000003 324.21) scale(0.86 1)" font-size="7.56" font-weight="bold" text-anchor="end" fill="#000" stroke="#000" stroke-width="0.3">1.0</text>
<line x1="149.10000000000002" y1="300.5" x2="151.3" y2="300.5" stroke="#000" stroke-width="1.0"/>
<text transform="translate(148.50000000000003 303.04) scale(0.86 1)" font-size="7.56" font-weight="bold" text-anchor="end" fill="#000" stroke="#000" stroke-width="0.3">1.5</text>
<text transform="translate(135.7 330.3) rotate(-90) scale(0.95 1)" font-size="7.16" font-weight="bold" text-anchor="middle" fill="#000" stroke="#000" stroke-width="0.35">mRNA Relative Expression</text>
<text x="228.85" y="314.64" font-size="15.2" font-weight="normal" text-anchor="middle" fill="#666" stroke="#666" stroke-width="0.4" letter-spacing="1.2">**</text>
<line x1="212.5" y1="313.8" x2="243.8" y2="313.8" stroke="#1a1a1a" stroke-width="1.5"/>
<text transform="translate(157.5 301) scale(0.95 1)" font-size="9.47" font-weight="bold" text-anchor="start" fill="#000" stroke="#000" stroke-width="0.3" font-style="italic">PTCH1</text>
<text transform="translate(163.0 372) rotate(-43) scale(0.95 1)" font-size="7.38" font-weight="bold" text-anchor="end" fill="#000" stroke="#000" stroke-width="0.3">Medium</text>
<text transform="translate(182.6 372) rotate(-43) scale(0.95 1)" font-size="7.38" font-weight="bold" text-anchor="end" fill="#000" stroke="#000" stroke-width="0.3">DMSO</text>
<text transform="translate(201.85 372) rotate(-43) scale(0.95 1)" font-size="7.38" font-weight="bold" text-anchor="end" fill="#000" stroke="#000" stroke-width="0.3">Cyclopamine</text>
<text transform="translate(221.35 372) rotate(-43) scale(0.95 1)" font-size="7.38" font-weight="bold" text-anchor="end" fill="#000" stroke="#000" stroke-width="0.3">ctl IgG</text>
<text transform="translate(240.6 372) rotate(-43) scale(0.95 1)" font-size="7.38" font-weight="bold" text-anchor="end" fill="#000" stroke="#000" stroke-width="0.3">aSHH</text>
<rect x="299.3" y="323.20" width="13.2" height="42.80" fill="#fff" stroke="#000" stroke-width="1.1"/>
<line x1="305.9" y1="366" x2="305.9" y2="368.2" stroke="#000" stroke-width="1.0"/>
<line x1="325.4" y1="324.48" x2="325.4" y2="319.35" stroke="#000" stroke-width="1.2"/>
<line x1="321.7" y1="319.35" x2="329.1" y2="319.35" stroke="#000" stroke-width="1.2"/>
<rect x="318.8" y="324.48" width="13.2" height="41.52" fill="#686868" stroke="#000" stroke-width="1.1"/>
<line x1="325.4" y1="366" x2="325.4" y2="368.2" stroke="#000" stroke-width="1.0"/>
<line x1="344.35" y1="352.3" x2="344.35" y2="345.88" stroke="#000" stroke-width="1.2"/>
<line x1="340.51" y1="345.88" x2="348.19" y2="345.88" stroke="#000" stroke-width="1.2"/>
<rect x="337.5" y="352.30" width="13.7" height="13.70" fill="#fff" stroke="#000" stroke-width="1.1"/>
<line x1="344.35" y1="366" x2="344.35" y2="368.2" stroke="#000" stroke-width="1.0"/>
<line x1="364.05" y1="321.49" x2="364.05" y2="317.21" stroke="#000" stroke-width="1.2"/>
<line x1="360.38" y1="317.21" x2="367.72" y2="317.21" stroke="#000" stroke-width="1.2"/>
<rect x="357.5" y="321.49" width="13.1" height="44.51" fill="#686868" stroke="#000" stroke-width="1.1"/>
<line x1="364.05" y1="366" x2="364.05" y2="368.2" stroke="#000" stroke-width="1.0"/>
<line x1="383.4" y1="338.18" x2="383.4" y2="330.9" stroke="#000" stroke-width="1.2"/>
<line x1="379.7" y1="330.9" x2="387.1" y2="330.9" stroke="#000" stroke-width="1.2"/>
<rect x="376.8" y="338.18" width="13.2" height="27.82" fill="#fff" stroke="#000" stroke-width="1.1"/>
<line x1="383.4" y1="366" x2="383.4" y2="368.2" stroke="#000" stroke-width="1.0"/>
<line x1="295.8" y1="301.40000000000003" x2="295.8" y2="366.5" stroke="#000" stroke-width="1.0"/>
<line x1="295.3" y1="366" x2="393" y2="366" stroke="#000" stroke-width="1.1"/>
<line x1="293.6" y1="366.0" x2="295.8" y2="366.0" stroke="#000" stroke-width="1.0"/>
<text transform="translate(293.0 368.54) scale(0.86 1)" font-size="7.56" font-weight="bold" text-anchor="end" fill="#000" stroke="#000" stroke-width="0.3">0.0</text>
<line x1="293.6" y1="344.6" x2="295.8" y2="344.6" stroke="#000" stroke-width="1.0"/>
<text transform="translate(293.0 347.14) scale(0.86 1)" font-size="7.56" font-weight="bold" text-anchor="end" fill="#000" stroke="#000" stroke-width="0.3">0.5</text>
<line x1="293.6" y1="323.2" x2="295.8" y2="323.2" stroke="#000" stroke-width="1.0"/>
<text transform="translate(293.0 325.74) scale(0.86 1)" font-size="7.56" font-weight="bold" text-anchor="end" fill="#000" stroke="#000" stroke-width="0.3">1.0</text>
<line x1="293.6" y1="301.8" x2="295.8" y2="301.8" stroke="#000" stroke-width="1.0"/>
<text transform="translate(293.0 304.34) scale(0.86 1)" font-size="7.56" font-weight="bold" text-anchor="end" fill="#000" stroke="#000" stroke-width="0.3">1.5</text>
<text transform="translate(280 332.5) rotate(-90) scale(0.95 1)" font-size="7.19" font-weight="bold" text-anchor="middle" fill="#000" stroke="#000" stroke-width="0.35">mRNA Relative Expression</text>
<text x="373.70000000000005" y="314.64" font-size="15.2" font-weight="normal" text-anchor="middle" fill="#666" stroke="#666" stroke-width="0.4" letter-spacing="1.2">*</text>
<line x1="357.5" y1="313.8" x2="388.5" y2="313.8" stroke="#1a1a1a" stroke-width="1.5"/>
<text transform="translate(302.5 301) scale(0.95 1)" font-size="9.47" font-weight="bold" text-anchor="start" fill="#000" stroke="#000" stroke-width="0.3" font-style="italic">GLI1</text>
<text transform="translate(307.7 372.9) rotate(-43) scale(0.95 1)" font-size="7.38" font-weight="bold" text-anchor="end" fill="#000" stroke="#000" stroke-width="0.3">Medium</text>
<text transform="translate(327.2 372.9) rotate(-43) scale(0.95 1)" font-size="7.38" font-weight="bold" text-anchor="end" fill="#000" stroke="#000" stroke-width="0.3">DMSO</text>
<text transform="translate(346.15000000000003 372.9) rotate(-43) scale(0.95 1)" font-size="7.38" font-weight="bold" text-anchor="end" fill="#000" stroke="#000" stroke-width="0.3">Cyclopamine</text>
<text transform="translate(365.85 372.9) rotate(-43) scale(0.95 1)" font-size="7.38" font-weight="bold" text-anchor="end" fill="#000" stroke="#000" stroke-width="0.3">ctl IgG</text>
<text transform="translate(385.2 372.9) rotate(-43) scale(0.95 1)" font-size="7.38" font-weight="bold" text-anchor="end" fill="#000" stroke="#000" stroke-width="0.3">aSHH</text>
<rect x="425" y="323.33" width="13.3" height="42.87" fill="#fff" stroke="#000" stroke-width="1.1"/>
<line x1="431.65" y1="366.2" x2="431.65" y2="368.4" stroke="#000" stroke-width="1.0"/>
<line x1="451.25" y1="321.62" x2="451.25" y2="314.33" stroke="#000" stroke-width="1.2"/>
<line x1="447.47" y1="314.33" x2="455.03" y2="314.33" stroke="#000" stroke-width="1.2"/>
<rect x="444.5" y="321.62" width="13.5" height="44.58" fill="#686868" stroke="#000" stroke-width="1.1"/>
<line x1="451.25" y1="366.2" x2="451.25" y2="368.4" stroke="#000" stroke-width="1.0"/>
<line x1="470.65" y1="356.34" x2="470.65" y2="351.2" stroke="#000" stroke-width="1.2"/>
<line x1="466.81" y1="351.2" x2="474.49" y2="351.2" stroke="#000" stroke-width="1.2"/>
<rect x="463.8" y="356.34" width="13.7" height="9.86" fill="#fff" stroke="#000" stroke-width="1.1"/>
<line x1="470.65" y1="366.2" x2="470.65" y2="368.4" stroke="#000" stroke-width="1.0"/>
<line x1="490.4" y1="320.33" x2="490.4" y2="315.62" stroke="#000" stroke-width="1.2"/>
<line x1="486.7" y1="315.62" x2="494.1" y2="315.62" stroke="#000" stroke-width="1.2"/>
<rect x="483.8" y="320.33" width="13.2" height="45.87" fill="#686868" stroke="#000" stroke-width="1.1"/>
<line x1="490.4" y1="366.2" x2="490.4" y2="368.4" stroke="#000" stroke-width="1.0"/>
<line x1="509.65" y1="346.48" x2="509.65" y2="337.48" stroke="#000" stroke-width="1.2"/>
<line x1="505.93" y1="337.48" x2="513.37" y2="337.48" stroke="#000" stroke-width="1.2"/>
<rect x="503" y="346.48" width="13.3" height="19.72" fill="#fff" stroke="#000" stroke-width="1.1"/>
<line x1="509.65" y1="366.2" x2="509.65" y2="368.4" stroke="#000" stroke-width="1.0"/>
<line x1="422.3" y1="301.5" x2="422.3" y2="366.7" stroke="#000" stroke-width="1.0"/>
<line x1="421.8" y1="366.2" x2="519.5" y2="366.2" stroke="#000" stroke-width="1.1"/>
<line x1="420.1" y1="366.2" x2="422.3" y2="366.2" stroke="#000" stroke-width="1.0"/>
<text transform="translate(419.5 368.74) scale(0.86 1)" font-size="7.56" font-weight="bold" text-anchor="end" fill="#000" stroke="#000" stroke-width="0.3">0.0</text>
<line x1="420.1" y1="344.77" x2="422.3" y2="344.77" stroke="#000" stroke-width="1.0"/>
<text transform="translate(419.5 347.31) scale(0.86 1)" font-size="7.56" font-weight="bold" text-anchor="end" fill="#000" stroke="#000" stroke-width="0.3">0.5</text>
<line x1="420.1" y1="323.33" x2="422.3" y2="323.33" stroke="#000" stroke-width="1.0"/>
<text transform="translate(419.5 325.87) scale(0.86 1)" font-size="7.56" font-weight="bold" text-anchor="end" fill="#000" stroke="#000" stroke-width="0.3">1.0</text>
<line x1="420.1" y1="301.9" x2="422.3" y2="301.9" stroke="#000" stroke-width="1.0"/>
<text transform="translate(419.5 304.44) scale(0.86 1)" font-size="7.56" font-weight="bold" text-anchor="end" fill="#000" stroke="#000" stroke-width="0.3">1.5</text>
<text transform="translate(406.7 332.3) rotate(-90) scale(0.95 1)" font-size="7.19" font-weight="bold" text-anchor="middle" fill="#000" stroke="#000" stroke-width="0.35">mRNA Relative Expression</text>
<text x="500.45000000000005" y="313.34" font-size="15.2" font-weight="normal" text-anchor="middle" fill="#666" stroke="#666" stroke-width="0.4" letter-spacing="1.2">**</text>
<line x1="484.5" y1="312.5" x2="515" y2="312.5" stroke="#1a1a1a" stroke-width="1.5"/>
<text transform="translate(428.8 300.5) scale(0.95 1)" font-size="9.47" font-weight="bold" text-anchor="start" fill="#000" stroke="#000" stroke-width="0.3" font-style="italic">PTCH1</text>
<text transform="translate(433.45 372.9) rotate(-43) scale(0.95 1)" font-size="7.38" font-weight="bold" text-anchor="end" fill="#000" stroke="#000" stroke-width="0.3">Medium</text>
<text transform="translate(453.05 372.9) rotate(-43) scale(0.95 1)" font-size="7.38" font-weight="bold" text-anchor="end" fill="#000" stroke="#000" stroke-width="0.3">DMSO</text>
<text transform="translate(472.45 372.9) rotate(-43) scale(0.95 1)" font-size="7.38" font-weight="bold" text-anchor="end" fill="#000" stroke="#000" stroke-width="0.3">Cyclopamine</text>
<text transform="translate(492.2 372.9) rotate(-43) scale(0.95 1)" font-size="7.38" font-weight="bold" text-anchor="end" fill="#000" stroke="#000" stroke-width="0.3">ctl IgG</text>
<text transform="translate(511.45 372.9) rotate(-43) scale(0.95 1)" font-size="7.38" font-weight="bold" text-anchor="end" fill="#000" stroke="#000" stroke-width="0.3">aSHH</text>
<rect x="31.4" y="506.57" width="16.5" height="16.82" fill="#fff" stroke="#000" stroke-width="1.1"/>
<line x1="39.65" y1="523.4" x2="39.65" y2="525.6" stroke="#000" stroke-width="1.0"/>
<rect x="55.8" y="506.57" width="16.5" height="16.82" fill="#fff" stroke="#000" stroke-width="1.1"/>
<line x1="64.05" y1="523.4" x2="64.05" y2="525.6" stroke="#000" stroke-width="1.0"/>
<line x1="88.8" y1="477.64" x2="88.8" y2="466.36" stroke="#000" stroke-width="1.2"/>
<line x1="84.21" y1="466.36" x2="93.39" y2="466.36" stroke="#000" stroke-width="1.2"/>
<rect x="80.6" y="477.64" width="16.4" height="45.76" fill="#fff" stroke="#000" stroke-width="1.1"/>
<line x1="88.8" y1="523.4" x2="88.8" y2="525.6" stroke="#000" stroke-width="1.0"/>
<line x1="113.25" y1="499.34" x2="113.25" y2="493.28" stroke="#000" stroke-width="1.2"/>
<line x1="108.63" y1="493.28" x2="117.87" y2="493.28" stroke="#000" stroke-width="1.2"/>
<rect x="105" y="499.34" width="16.5" height="24.06" fill="#fff" stroke="#000" stroke-width="1.1"/>
<line x1="113.25" y1="523.4" x2="113.25" y2="525.6" stroke="#000" stroke-width="1.0"/>
<line x1="27.2" y1="455.70000000000005" x2="27.2" y2="523.9" stroke="#000" stroke-width="1.0"/>
<line x1="26.7" y1="523.4" x2="124" y2="523.4" stroke="#000" stroke-width="1.1"/>
<line x1="25.0" y1="523.4" x2="27.2" y2="523.4" stroke="#000" stroke-width="1.0"/>
<text transform="translate(24.4 526.21) scale(0.86 1)" font-size="8.37" font-weight="bold" text-anchor="end" fill="#000" stroke="#000" stroke-width="0.3">0</text>
<line x1="25.0" y1="506.57" x2="27.2" y2="506.57" stroke="#000" stroke-width="1.0"/>
<text transform="translate(24.4 509.38) scale(0.86 1)" font-size="8.37" font-weight="bold" text-anchor="end" fill="#000" stroke="#000" stroke-width="0.3">1</text>
<line x1="25.0" y1="489.75" x2="27.2" y2="489.75" stroke="#000" stroke-width="1.0"/>
<text transform="translate(24.4 492.56) scale(0.86 1)" font-size="8.37" font-weight="bold" text-anchor="end" fill="#000" stroke="#000" stroke-width="0.3">2</text>
<line x1="25.0" y1="472.93" x2="27.2" y2="472.93" stroke="#000" stroke-width="1.0"/>
<text transform="translate(24.4 475.74) scale(0.86 1)" font-size="8.37" font-weight="bold" text-anchor="end" fill="#000" stroke="#000" stroke-width="0.3">3</text>
<line x1="25.0" y1="456.1" x2="27.2" y2="456.1" stroke="#000" stroke-width="1.0"/>
<text transform="translate(24.4 458.91) scale(0.86 1)" font-size="8.37" font-weight="bold" text-anchor="end" fill="#000" stroke="#000" stroke-width="0.3">4</text>
<text transform="translate(16.5 489.3) rotate(-90) scale(0.95 1)" font-size="7.43" font-weight="bold" text-anchor="middle" fill="#000" stroke="#000" stroke-width="0.35">GLI-Luciferase Activity</text>
<text x="101.35" y="456.64" font-size="15.2" font-weight="normal" text-anchor="middle" fill="#666" stroke="#666" stroke-width="0.4" letter-spacing="0.9">**</text>
<line x1="80.6" y1="457.3" x2="121" y2="457.3" stroke="#1a1a1a" stroke-width="1.5"/>
<text transform="translate(41.15 531.5) rotate(-43) scale(0.95 1)" font-size="8.08" font-weight="bold" text-anchor="end" fill="#000" stroke="#000" stroke-width="0.3"><tspan font-size="5.68" font-weight="bold" stroke-width="0.2" dy="-2.0">Ctrl</tspan><tspan dy="2.0" dx="0.8">ARP-1</tspan></text>
<text transform="translate(66.05 531.5) rotate(-43) scale(0.95 1)" font-size="8.08" font-weight="bold" text-anchor="end" fill="#000" stroke="#000" stroke-width="0.3"><tspan font-size="5.68" font-weight="bold" stroke-width="0.2" dy="-2.0">SHH-</tspan><tspan dy="2.0" dx="0.8">ARP-1</tspan></text>
<text transform="translate(90.8 531.5) rotate(-43) scale(0.95 1)" font-size="8.08" font-weight="bold" text-anchor="end" fill="#000" stroke="#000" stroke-width="0.3"><tspan font-size="5.68" font-weight="bold" stroke-width="0.2" dy="-2.0">Ctrl</tspan><tspan dy="2.0" dx="0.8">ARP-1</tspan></text>
<text transform="translate(116.45 531.5) rotate(-43) scale(0.95 1)" font-size="8.08" font-weight="bold" text-anchor="end" fill="#000" stroke="#000" stroke-width="0.3"><tspan font-size="5.68" font-weight="bold" stroke-width="0.2" dy="-2.0">SHH-</tspan><tspan dy="2.0" dx="0.8">ARP-1</tspan></text>
<line x1="21.3" y1="558.5" x2="71.3" y2="558.5" stroke="#000" stroke-width="1.4"/>
<line x1="75" y1="558.5" x2="125" y2="558.5" stroke="#000" stroke-width="1.4"/>
<text transform="translate(46.5 569) scale(0.9 1)" font-size="8.67" font-weight="bold" text-anchor="middle" fill="#000" stroke="#000" stroke-width="0.3">pGL3-Basic</text>
<text transform="translate(101.2 569) scale(0.9 1)" font-size="8.67" font-weight="bold" text-anchor="middle" fill="#000" stroke="#000" stroke-width="0.3">pGL3-GLI</text>
<rect x="158.7" y="509.84" width="17.0" height="13.26" fill="#686868" stroke="#000" stroke-width="1.1"/>
<line x1="167.2" y1="523.1" x2="167.2" y2="525.3000000000001" stroke="#000" stroke-width="1.0"/>
<rect x="182.7" y="509.84" width="17.0" height="13.26" fill="#686868" stroke="#000" stroke-width="1.1"/>
<line x1="191.2" y1="523.1" x2="191.2" y2="525.3000000000001" stroke="#000" stroke-width="1.0"/>
<line x1="215.35" y1="476.29" x2="215.35" y2="462.63" stroke="#000" stroke-width="1.2"/>
<line x1="210.73" y1="462.63" x2="219.97" y2="462.63" stroke="#000" stroke-width="1.2"/>
<rect x="207.1" y="476.29" width="16.5" height="46.81" fill="#686868" stroke="#000" stroke-width="1.1"/>
<line x1="215.35" y1="523.1" x2="215.35" y2="525.3000000000001" stroke="#000" stroke-width="1.0"/>
<line x1="239.4" y1="502.15" x2="239.4" y2="493.53" stroke="#000" stroke-width="1.2"/>
<line x1="234.7" y1="493.53" x2="244.1" y2="493.53" stroke="#000" stroke-width="1.2"/>
<rect x="231" y="502.15" width="16.8" height="20.95" fill="#686868" stroke="#000" stroke-width="1.1"/>
<line x1="239.4" y1="523.1" x2="239.4" y2="525.3000000000001" stroke="#000" stroke-width="1.0"/>
<line x1="154.5" y1="456.40000000000003" x2="154.5" y2="523.6" stroke="#000" stroke-width="1.0"/>
<line x1="154.0" y1="523.1" x2="251" y2="523.1" stroke="#000" stroke-width="1.1"/>
<line x1="152.3" y1="523.1" x2="154.5" y2="523.1" stroke="#000" stroke-width="1.0"/>
<text transform="translate(151.70000000000002 525.91) scale(0.86 1)" font-size="8.37" font-weight="bold" text-anchor="end" fill="#000" stroke="#000" stroke-width="0.3">0</text>
<line x1="152.3" y1="509.84" x2="154.5" y2="509.84" stroke="#000" stroke-width="1.0"/>
<text transform="translate(151.70000000000002 512.65) scale(0.86 1)" font-size="8.37" font-weight="bold" text-anchor="end" fill="#000" stroke="#000" stroke-width="0.3">1</text>
<line x1="152.3" y1="496.58" x2="154.5" y2="496.58" stroke="#000" stroke-width="1.0"/>
<text transform="translate(151.70000000000002 499.39) scale(0.86 1)" font-size="8.37" font-weight="bold" text-anchor="end" fill="#000" stroke="#000" stroke-width="0.3">2</text>
<line x1="152.3" y1="483.32" x2="154.5" y2="483.32" stroke="#000" stroke-width="1.0"/>
<text transform="translate(151.70000000000002 486.13) scale(0.86 1)" font-size="8.37" font-weight="bold" text-anchor="end" fill="#000" stroke="#000" stroke-width="0.3">3</text>
<line x1="152.3" y1="470.06" x2="154.5" y2="470.06" stroke="#000" stroke-width="1.0"/>
<text transform="translate(151.70000000000002 472.87) scale(0.86 1)" font-size="8.37" font-weight="bold" text-anchor="end" fill="#000" stroke="#000" stroke-width="0.3">4</text>
<line x1="152.3" y1="456.8" x2="154.5" y2="456.8" stroke="#000" stroke-width="1.0"/>
<text transform="translate(151.70000000000002 459.61) scale(0.86 1)" font-size="8.37" font-weight="bold" text-anchor="end" fill="#000" stroke="#000" stroke-width="0.3">5</text>
<text transform="translate(145.2 489.5) rotate(-90) scale(0.95 1)" font-size="7.37" font-weight="bold" text-anchor="middle" fill="#000" stroke="#000" stroke-width="0.35">GLI-Luciferase Activity</text>
<text x="228.7" y="449.24" font-size="15.2" font-weight="normal" text-anchor="middle" fill="#666" stroke="#666" stroke-width="0.4" letter-spacing="0.9">**</text>
<line x1="208" y1="450.6" x2="248.3" y2="450.6" stroke="#1a1a1a" stroke-width="1.5"/>
<text transform="translate(169.2 530.8) rotate(-43) scale(0.95 1)" font-size="7.98" font-weight="bold" text-anchor="end" fill="#000" stroke="#000" stroke-width="0.3"><tspan font-size="5.68" font-weight="bold" stroke-width="0.2" dy="-2.0">Ctrl</tspan><tspan dy="2.0" dx="0.8">CAG</tspan></text>
<text transform="translate(193.95 530.8) rotate(-43) scale(0.95 1)" font-size="7.98" font-weight="bold" text-anchor="end" fill="#000" stroke="#000" stroke-width="0.3"><tspan font-size="5.68" font-weight="bold" stroke-width="0.2" dy="-2.0">SHH-</tspan><tspan dy="2.0" dx="0.8">CAG</tspan></text>
<text transform="translate(217.85 530.8) rotate(-43) scale(0.95 1)" font-size="7.98" font-weight="bold" text-anchor="end" fill="#000" stroke="#000" stroke-width="0.3"><tspan font-size="5.68" font-weight="bold" stroke-width="0.2" dy="-2.0">Ctrl</tspan><tspan dy="2.0" dx="0.8">CAG</tspan></text>
<text transform="translate(242.15 530.8) rotate(-43) scale(0.95 1)" font-size="7.98" font-weight="bold" text-anchor="end" fill="#000" stroke="#000" stroke-width="0.3"><tspan font-size="5.68" font-weight="bold" stroke-width="0.2" dy="-2.0">SHH-</tspan><tspan dy="2.0" dx="0.8">CAG</tspan></text>
<line x1="148.8" y1="558.8" x2="200" y2="558.8" stroke="#000" stroke-width="1.4"/>
<line x1="203.8" y1="558.8" x2="255" y2="558.8" stroke="#000" stroke-width="1.4"/>
<text transform="translate(174.5 569) scale(0.9 1)" font-size="8.67" font-weight="bold" text-anchor="middle" fill="#000" stroke="#000" stroke-width="0.3">pGL3-Basic</text>
<text transform="translate(229.7 569) scale(0.9 1)" font-size="8.67" font-weight="bold" text-anchor="middle" fill="#000" stroke="#000" stroke-width="0.3">pGL3-GLI</text>
<line x1="333.0" y1="481.93" x2="333.0" y2="474.39" stroke="#000" stroke-width="1.2"/>
<line x1="328.18" y1="474.39" x2="337.82" y2="474.39" stroke="#000" stroke-width="1.2"/>
<rect x="324.4" y="481.93" width="17.2" height="40.37" fill="#fff" stroke="#000" stroke-width="1.1"/>
<line x1="333.0" y1="522.3" x2="333.0" y2="524.5" stroke="#000" stroke-width="1.0"/>
<line x1="359.45" y1="517.78" x2="359.45" y2="516.94" stroke="#000" stroke-width="1.2"/>
<line x1="354.38" y1="516.94" x2="364.52" y2="516.94" stroke="#000" stroke-width="1.2"/>
<rect x="350.4" y="517.78" width="18.1" height="4.52" fill="#fff" stroke="#000" stroke-width="1.1"/>
<line x1="359.45" y1="522.3" x2="359.45" y2="524.5" stroke="#000" stroke-width="1.0"/>
<line x1="319.4" y1="454.90000000000003" x2="319.4" y2="522.8" stroke="#000" stroke-width="1.0"/>
<line x1="318.9" y1="522.3" x2="373" y2="522.3" stroke="#000" stroke-width="1.1"/>
<line x1="317.2" y1="522.3" x2="319.4" y2="522.3" stroke="#000" stroke-width="1.0"/>
<text transform="translate(316.59999999999997 525.03) scale(0.86 1)" font-size="8.14" font-weight="bold" text-anchor="end" fill="#000" stroke="#000" stroke-width="0.3">0</text>
<line x1="317.2" y1="505.55" x2="319.4" y2="505.55" stroke="#000" stroke-width="1.0"/>
<text transform="translate(316.59999999999997 508.28) scale(0.86 1)" font-size="8.14" font-weight="bold" text-anchor="end" fill="#000" stroke="#000" stroke-width="0.3">200</text>
<line x1="317.2" y1="488.8" x2="319.4" y2="488.8" stroke="#000" stroke-width="1.0"/>
<text transform="translate(316.59999999999997 491.53) scale(0.86 1)" font-size="8.14" font-weight="bold" text-anchor="end" fill="#000" stroke="#000" stroke-width="0.3">400</text>
<line x1="317.2" y1="472.05" x2="319.4" y2="472.05" stroke="#000" stroke-width="1.0"/>
<text transform="translate(316.59999999999997 474.78) scale(0.86 1)" font-size="8.14" font-weight="bold" text-anchor="end" fill="#000" stroke="#000" stroke-width="0.3">600</text>
<line x1="317.2" y1="455.3" x2="319.4" y2="455.3" stroke="#000" stroke-width="1.0"/>
<text transform="translate(316.59999999999997 458.03) scale(0.86 1)" font-size="8.14" font-weight="bold" text-anchor="end" fill="#000" stroke="#000" stroke-width="0.3">800</text>
<line x1="318.09999999999997" y1="513.92" x2="319.4" y2="513.92" stroke="#000" stroke-width="0.9"/>
<line x1="318.09999999999997" y1="497.17" x2="319.4" y2="497.17" stroke="#000" stroke-width="0.9"/>
<line x1="318.09999999999997" y1="480.43" x2="319.4" y2="480.43" stroke="#000" stroke-width="0.9"/>
<line x1="318.09999999999997" y1="463.68" x2="319.4" y2="463.68" stroke="#000" stroke-width="0.9"/>
<text transform="translate(299.7 487.1) rotate(-90) scale(0.95 1)" font-size="7.68" font-weight="bold" text-anchor="middle" fill="#000" stroke="#000" stroke-width="0.35">SHH (pg/mL)</text>
<text x="345.90000000000003" y="467.94" font-size="15.2" font-weight="normal" text-anchor="middle" fill="#666" stroke="#666" stroke-width="0.4" letter-spacing="0.9">**</text>
<line x1="329.7" y1="467.9" x2="361" y2="467.9" stroke="#1a1a1a" stroke-width="1.5"/>
<text transform="translate(335.8 530.3) rotate(-43) scale(0.95 1)" font-size="7.98" font-weight="bold" text-anchor="end" fill="#000" stroke="#000" stroke-width="0.3"><tspan font-size="5.47" font-weight="bold" stroke-width="0.2" dy="-2.0">Ctrl</tspan><tspan dy="2.0" dx="0.8">ARP-1</tspan></text>
<text transform="translate(363.95 530.3) rotate(-43) scale(0.95 1)" font-size="7.98" font-weight="bold" text-anchor="end" fill="#000" stroke="#000" stroke-width="0.3"><tspan font-size="5.47" font-weight="bold" stroke-width="0.2" dy="-2.0">DISP-</tspan><tspan dy="2.0" dx="0.8">ARP-1</tspan></text>
<line x1="416.85" y1="474.39" x2="416.85" y2="470.38" stroke="#000" stroke-width="1.2"/>
<line x1="411.78" y1="470.38" x2="421.92" y2="470.38" stroke="#000" stroke-width="1.2"/>
<rect x="407.8" y="474.39" width="18.1" height="47.90" fill="#686868" stroke="#000" stroke-width="1.1"/>
<line x1="416.85" y1="522.3" x2="416.85" y2="524.5" stroke="#000" stroke-width="1.0"/>
<line x1="443.85" y1="514.34" x2="443.85" y2="513.51" stroke="#000" stroke-width="1.2"/>
<line x1="438.73" y1="513.51" x2="448.97" y2="513.51" stroke="#000" stroke-width="1.2"/>
<rect x="434.7" y="514.34" width="18.3" height="7.96" fill="#686868" stroke="#000" stroke-width="1.1"/>
<line x1="443.85" y1="522.3" x2="443.85" y2="524.5" stroke="#000" stroke-width="1.0"/>
<line x1="403.7" y1="454.90000000000003" x2="403.7" y2="522.8" stroke="#000" stroke-width="1.0"/>
<line x1="403.2" y1="522.3" x2="456.5" y2="522.3" stroke="#000" stroke-width="1.1"/>
<line x1="401.5" y1="522.3" x2="403.7" y2="522.3" stroke="#000" stroke-width="1.0"/>
<text transform="translate(400.9 525.03) scale(0.86 1)" font-size="8.14" font-weight="bold" text-anchor="end" fill="#000" stroke="#000" stroke-width="0.3">0</text>
<line x1="401.5" y1="505.55" x2="403.7" y2="505.55" stroke="#000" stroke-width="1.0"/>
<text transform="translate(400.9 508.28) scale(0.86 1)" font-size="8.14" font-weight="bold" text-anchor="end" fill="#000" stroke="#000" stroke-width="0.3">200</text>
<line x1="401.5" y1="488.8" x2="403.7" y2="488.8" stroke="#000" stroke-width="1.0"/>
<text transform="translate(400.9 491.53) scale(0.86 1)" font-size="8.14" font-weight="bold" text-anchor="end" fill="#000" stroke="#000" stroke-width="0.3">400</text>
<line x1="401.5" y1="472.05" x2="403.7" y2="472.05" stroke="#000" stroke-width="1.0"/>
<text transform="translate(400.9 474.78) scale(0.86 1)" font-size="8.14" font-weight="bold" text-anchor="end" fill="#000" stroke="#000" stroke-width="0.3">600</text>
<line x1="401.5" y1="455.3" x2="403.7" y2="455.3" stroke="#000" stroke-width="1.0"/>
<text transform="translate(400.9 458.03) scale(0.86 1)" font-size="8.14" font-weight="bold" text-anchor="end" fill="#000" stroke="#000" stroke-width="0.3">800</text>
<line x1="402.4" y1="513.92" x2="403.7" y2="513.92" stroke="#000" stroke-width="0.9"/>
<line x1="402.4" y1="497.17" x2="403.7" y2="497.17" stroke="#000" stroke-width="0.9"/>
<line x1="402.4" y1="480.43" x2="403.7" y2="480.43" stroke="#000" stroke-width="0.9"/>
<line x1="402.4" y1="463.68" x2="403.7" y2="463.68" stroke="#000" stroke-width="0.9"/>
<text transform="translate(383.6 487.1) rotate(-90) scale(0.95 1)" font-size="7.68" font-weight="bold" text-anchor="middle" fill="#000" stroke="#000" stroke-width="0.35">SHH (pg/mL)</text>
<text x="432.40000000000003" y="456.94" font-size="15.2" font-weight="normal" text-anchor="middle" fill="#666" stroke="#666" stroke-width="0.4" letter-spacing="0.9">**</text>
<line x1="416" y1="457.6" x2="447.7" y2="457.6" stroke="#1a1a1a" stroke-width="1.5"/>
<text transform="translate(419.65000000000003 530.5) rotate(-43) scale(0.95 1)" font-size="7.98" font-weight="bold" text-anchor="end" fill="#000" stroke="#000" stroke-width="0.3"><tspan font-size="5.47" font-weight="bold" stroke-width="0.2" dy="-2.0">Ctrl</tspan><tspan dy="2.0" dx="0.8">CAG</tspan></text>
<text transform="translate(445.55 530.5) rotate(-43) scale(0.95 1)" font-size="7.98" font-weight="bold" text-anchor="end" fill="#000" stroke="#000" stroke-width="0.3"><tspan font-size="5.47" font-weight="bold" stroke-width="0.2" dy="-2.0">DISP-</tspan><tspan dy="2.0" dx="0.8">CAG</tspan></text>
</svg>
</body></html>
